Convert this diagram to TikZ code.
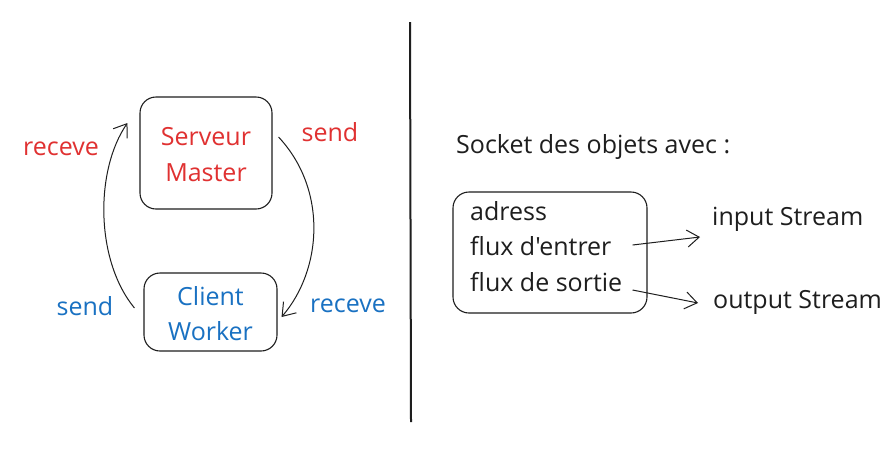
\documentclass[tikz,border=0pt]{standalone}
\usepackage{fontspec}
\setmainfont{Open Sans}[Ligatures=TeXOff]
\usetikzlibrary{arrows.meta}
\definecolor{xred}{HTML}{E03131}
\definecolor{xblue}{HTML}{1971C2}
\definecolor{xink}{HTML}{1E1E1E}
\tikzset{
  box/.style={draw=xink, line width=1.1pt, rounded corners=16pt, inner sep=0pt},
  lbl/.style={font=\fontsize{25}{30}\selectfont, inner sep=0pt, text=xink},
  conn/.style={draw=xink, line width=1pt, -{Straight Barb[length=12pt,width=17pt,line width=1pt]}},
}
\begin{document}
\begin{tikzpicture}[x=1pt,y=-1pt]
\useasboundingbox[fill=white] (0,0) rectangle (893,448);
% divider
\coordinate (d1) at (410,22);
\coordinate (d2) at (411,422);
\draw[xink, line width=2pt] (d1) -- (d2);
% left part
\node[box, minimum width=132pt, minimum height=112pt] (sm) at (206,153) {};
\node[lbl, text=xred, align=center, font=\fontsize{25}{36}\selectfont] (smt) at (206,154.5) {Serveur\\Master};
\node[box, minimum width=133pt, minimum height=78pt] (cw) at (210.5,312) {};
\node[lbl, text=xblue, align=center, font=\fontsize{25}{35}\selectfont] (cwt) at (210.5,314) {Client\\Worker};
\node[lbl, text=xred] (rr) at (61,148.5) {receve};
\node[lbl, text=xred] (sr) at (330,132.5) {send};
\node[lbl, text=xblue] (sb) at (85,306.5) {send};
\node[lbl, text=xblue] (rb) at (348,305.5) {receve};
\coordinate (la) at ([shift={(-9,-4)}]cw.west);
\coordinate (lb) at ([shift={(-12,-30)}]sm.west);
\coordinate (ra) at ([shift={(6,-16)}]sm.east);
\coordinate (rb2) at ([shift={(4,5)}]cw.east);
\draw[conn] (la) .. controls (95,260) and (95,170) .. (lb);
\draw[conn] (ra) .. controls (328,190) and (322,270) .. (rb2);
% right part
\node[lbl, anchor=west] (title) at (456,146.5) {Socket des objets avec :};
\node[box, minimum width=194pt, minimum height=121pt] (sock) at (550,252.5) {};
\node[lbl, anchor=west] (adr) at (470,211.5) {adress};
\node[lbl, anchor=west] (fe) at (470,246.5) {flux d'entrer};
\node[lbl, anchor=west] (fs) at (470,282.5) {flux de sortie};
\node[lbl, anchor=west] (is) at (712,219.5) {input Stream};
\node[lbl, anchor=west] (os) at (713,302.5) {output Stream};
\coordinate (a1) at ([shift={(-15,-7.5)}]sock.east);
\coordinate (a2) at ([shift={(-12,17.5)}]is.west);
\coordinate (b1) at ([shift={(-15,37.5)}]sock.east);
\coordinate (b2) at ([shift={(-15,0.5)}]os.west);
\draw[conn] (a1) -- (a2);
\draw[conn] (b1) -- (b2);
\end{tikzpicture}
\end{document}
